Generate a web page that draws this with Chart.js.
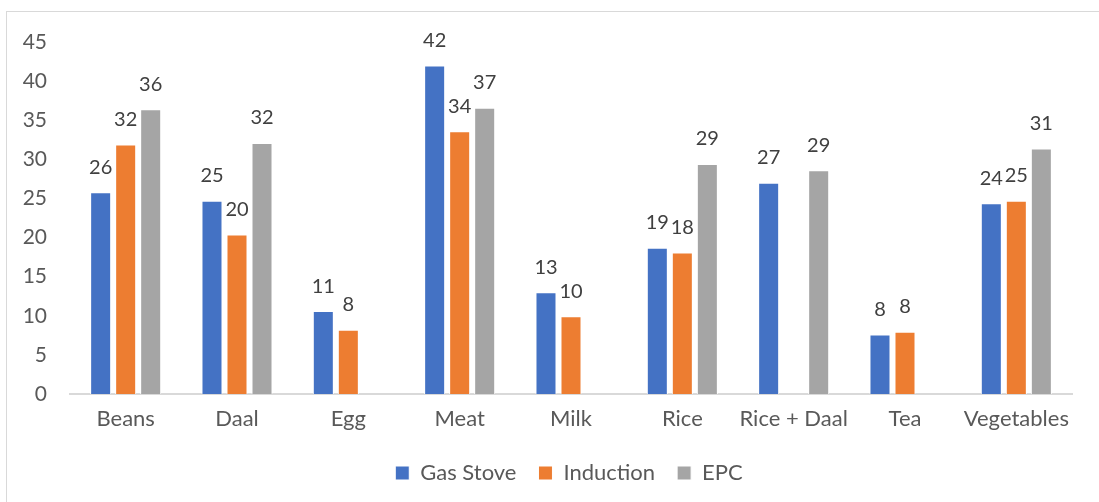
<!DOCTYPE html>
<html>
<head>
<meta charset="utf-8">
<script src="https://cdn.jsdelivr.net/npm/chart.js@4/dist/chart.umd.min.js"></script>
<style>
  html, body { margin: 0; padding: 0; background: #ffffff; }
  #wrap { position: relative; width: 1099px; height: 502px; overflow: hidden; }
  #frame { position: absolute; left: 6px; top: 11px; width: 1200px; height: 600px; border: 1px solid #d9d9d9; box-sizing: border-box; }
  canvas { position: absolute; left: 0; top: 0; }
</style>
</head>
<body>
<div id="wrap">
  <div id="frame"></div>
  <canvas id="c" width="1099" height="502"></canvas>
</div>
<script>
const categories = ["Beans", "Daal", "Egg", "Meat", "Milk", "Rice", "Rice + Daal", "Tea", "Vegetables"];
const gasStove  = [25.8, 24.7, 10.6, 42.0, 13.0, 18.7, 27.0, 7.6, 24.4];
const induction = [31.9, 20.4, 8.2, 33.6, 9.95, 18.1, null, 7.95, 24.7];
const epc       = [36.4, 32.1, null, 36.6, null, 29.4, 28.6, null, 31.4];
const yTicks    = [0, 5, 10, 15, 20, 25, 30, 35, 40, 45];

const FONT = "Lato, 'Open Sans', sans-serif";

const labelPlugin = {
  id: 'valueLabels',
  afterDatasetsDraw(chart) {
    const ctx = chart.ctx;
    ctx.save();
    ctx.font = "20px " + FONT;
    ctx.fillStyle = "#404040";
    ctx.textAlign = "center";
    ctx.textBaseline = "middle";
    chart.data.datasets.forEach((ds, di) => {
      const meta = chart.getDatasetMeta(di);
      meta.data.forEach((bar, i) => {
        const v = ds.data[i];
        if (v === null || v === undefined) return;
        ctx.fillText(String(Math.round(v)), bar.x, bar.y - 25);
      });
    });
    ctx.restore();
  }
};

const legendShift = {
  id: 'legendShift',
  afterLayout(chart) {
    const lg = chart.legend;
    if (lg) { lg.left += 33; lg.right += 33; }
  }
};

new Chart(document.getElementById('c'), {
  type: 'bar',
  data: {
    labels: categories,
    datasets: [
      { label: 'Gas Stove', data: gasStove, backgroundColor: '#4472C4', borderColor: '#ffffff', borderWidth: 1 },
      { label: 'Induction', data: induction, backgroundColor: '#ED7D31', borderColor: '#ffffff', borderWidth: 1 },
      { label: 'EPC', data: epc, backgroundColor: '#A5A5A5', borderColor: '#ffffff', borderWidth: 1 }
    ]
  },
  options: {
    responsive: false,
    animation: false,
    events: [],
    layout: { padding: { top: 42, right: 27, bottom: 8, left: 0 } },
    datasets: { bar: { categoryPercentage: 0.674, barPercentage: 0.84 } },
    scales: {
      x: {
        grid: { display: false },
        border: { display: true, color: '#d9d9d9', width: 2 },
        ticks: { color: '#595959', font: { family: FONT, size: 22 }, padding: 4, maxRotation: 0, autoSkip: false },
        afterFit(s) { s.height = 46; }
      },
      y: {
        min: 0, max: 45,
        afterBuildTicks(s) { s.ticks = yTicks.map(v => ({ value: v })); },
        grid: { display: false },
        border: { display: false },
        ticks: { color: '#595959', font: { family: FONT, size: 21 }, padding: 15 },
        afterFit(s) { s.width = 70; }
      }
    },
    plugins: {
      tooltip: { enabled: false },
      legend: {
        position: 'bottom',
        labels: { color: '#595959', font: { family: FONT, size: 22 }, boxWidth: 14, boxHeight: 14, padding: 22 }
      }
    }
  },
  plugins: [labelPlugin, legendShift]
});
</script>
</body>
</html>
